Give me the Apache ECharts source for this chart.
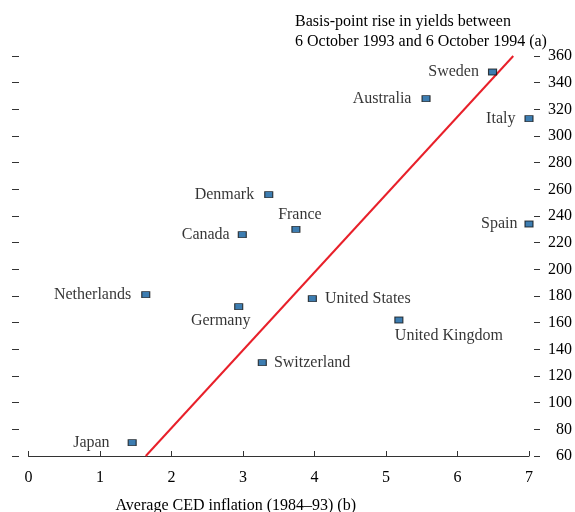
<!DOCTYPE html>
<html>
<head>
<meta charset="utf-8">
<script src="https://cdn.jsdelivr.net/npm/echarts@6/dist/echarts.min.js"></script>
<style>
html,body{margin:0;padding:0;background:#fff;}
#chart{width:575px;height:512px;}
</style>
</head>
<body>
<div id="chart"></div>
<script>
// ---- data ----
var countries = ['Japan','Netherlands','Germany','Canada','Denmark','France','Switzerland','United States','United Kingdom','Australia','Sweden','Italy','Spain'];
var inflation = [1.45, 1.64, 2.94, 2.99, 3.36, 3.74, 3.27, 3.97, 5.18, 5.56, 6.49, 7.0, 7.0];
var yieldRise = [70, 181, 172, 226, 256, 230, 130, 178, 162, 328, 348, 313, 234];
var fitLineX = [1.64, 6.78];
var fitLineY = [60, 360];
var xTicks = [0, 1, 2, 3, 4, 5, 6, 7];
var yTicks = [60, 80, 100, 120, 140, 160, 180, 200, 220, 240, 260, 280, 300, 320, 340, 360];
var yAxisTitle = ['Basis-point rise in yields between', '6 October 1993 and 6 October 1994 (a)'];
var xAxisTitle = 'Average CED inflation (1984\u201393) (b)';

// ---- label placement (style) ----
var labelStyle = {
  'Japan': {position: 'left', distance: 18},
  'Netherlands': {position: 'left', distance: 10},
  'Germany': {position: 'bottom', distance: 3, offset: [-18, 0]},
  'Canada': {position: 'left', distance: 8},
  'Denmark': {position: 'left', distance: 10},
  'France': {position: 'top', distance: 3, offset: [4, 0]},
  'Switzerland': {position: 'right', distance: 7},
  'United States': {position: 'right', distance: 8},
  'United Kingdom': {position: 'bottom', distance: 4, offset: [50, 0]},
  'Australia': {position: 'left', distance: 10},
  'Sweden': {position: 'left', distance: 9},
  'Italy': {position: 'left', distance: 9},
  'Spain': {position: 'left', distance: 7}
};

var FONT = '"Liberation Serif", "DejaVu Serif", serif';
var TXT = '#000000';
var FS = 16;

var scatterData = countries.map(function (c, i) {
  var ls = labelStyle[c] || {position: 'left'};
  return {
    name: c,
    value: [inflation[i], yieldRise[i]],
    label: Object.assign({show: true, formatter: c}, ls)
  };
});
var lineData = fitLineX.map(function (x, i) { return [x, fitLineY[i]]; });

var chart = echarts.init(document.getElementById('chart'), null, {renderer: 'canvas'});
chart.setOption({
  animation: false,
  backgroundColor: '#ffffff',
  grid: {left: 28.5, right: 46, top: 56, bottom: 56, containLabel: false, outerBoundsMode: 'none'},
  xAxis: {
    type: 'value', min: xTicks[0], max: xTicks[xTicks.length - 1], interval: 1,
    axisLine: {show: true, onZero: false, lineStyle: {color: '#333', width: 1}},
    axisTick: {show: true, inside: true, length: 5, lineStyle: {color: '#333'}},
    axisLabel: {fontFamily: FONT, fontSize: FS, color: TXT, margin: 14},
    splitLine: {show: false},
    name: xAxisTitle, nameLocation: 'middle', nameGap: 42,
    nameTextStyle: {fontFamily: FONT, fontSize: FS, color: TXT, padding: [0, 86, 0, 0]}
  },
  yAxis: [{
    type: 'value', position: 'right', min: yTicks[0], max: yTicks[yTicks.length - 1], interval: 20, offset: 5,
    axisLine: {show: false, onZero: false},
    axisTick: {show: true, length: 6, lineStyle: {color: '#333'}},
    axisLabel: {fontFamily: FONT, fontSize: FS, color: TXT, margin: 38, align: 'right'},
    splitLine: {show: false}
  }, {
    type: 'value', position: 'left', min: yTicks[0], max: yTicks[yTicks.length - 1], interval: 20, offset: 9.5,
    axisLine: {show: false, onZero: false},
    axisTick: {show: true, length: 7, lineStyle: {color: '#333'}},
    axisLabel: {show: false},
    splitLine: {show: false}
  }],
  graphic: [{
    type: 'text', left: 295, top: 12,
    style: {text: yAxisTitle.join('\n'), fontFamily: FONT, fontSize: FS, lineHeight: 20, fill: TXT}
  }],
  series: [{
    type: 'line', data: lineData, symbol: 'none', silent: true,
    lineStyle: {color: '#e8202a', width: 2}, z: 2
  }, {
    type: 'scatter', data: scatterData, symbol: 'rect', symbolSize: [8, 6], z: 3,
    itemStyle: {color: '#0d5c9e', borderColor: '#111', borderWidth: 1},
    label: {fontFamily: FONT, fontSize: FS, color: TXT}
  }]
});
</script>
</body>
</html>
